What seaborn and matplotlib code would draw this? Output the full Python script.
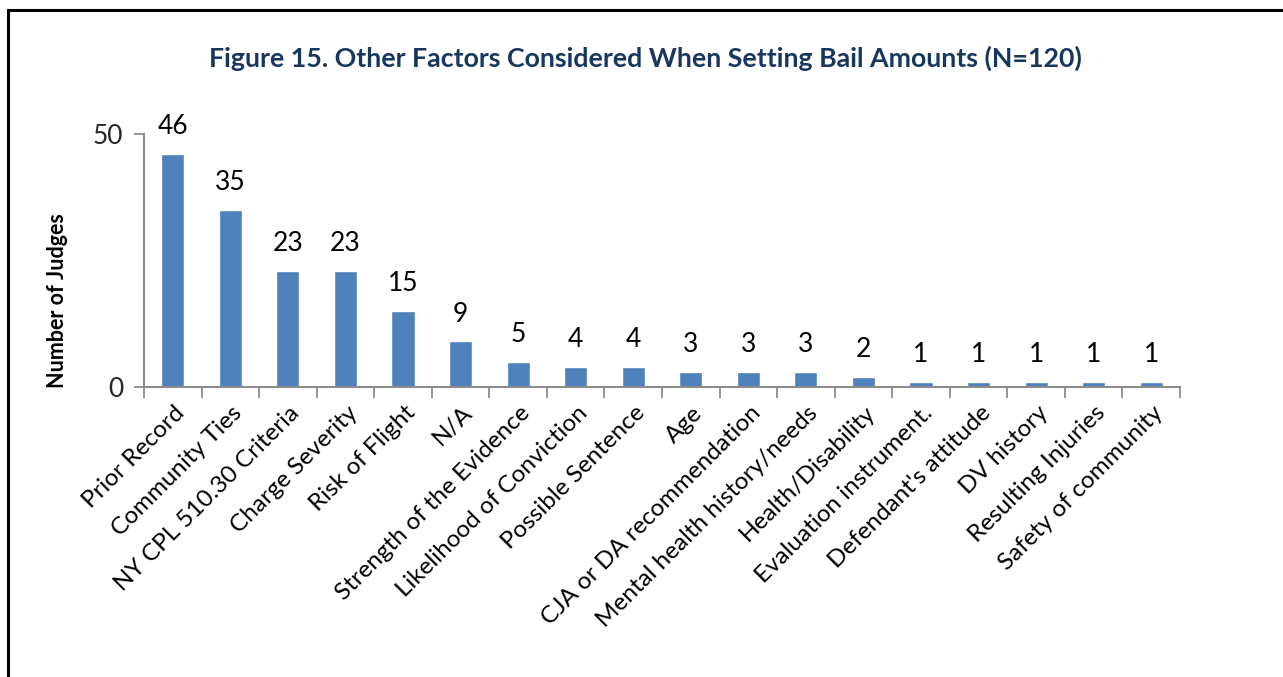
import matplotlib
matplotlib.use("Agg")
import matplotlib.pyplot as plt
import seaborn as sns
import pandas as pd
from matplotlib.patches import Rectangle

factors = [
    "Prior Record", "Community Ties", "NY CPL 510.30 Criteria", "Charge Severity",
    "Risk of Flight", "N/A", "Strength of the Evidence", "Likelihood of Conviction",
    "Possible Sentence", "Age", "CJA or DA recommendation", "Mental health history/needs",
    "Health/Disability", "Evaluation instrument.", "Defendant's attitude", "DV history",
    "Resulting Injuries", "Safety of community",
]
judges = [46, 35, 23, 23, 15, 9, 5, 4, 4, 3, 3, 3, 2, 1, 1, 1, 1, 1]
y_ticks = [0, 50]

df = pd.DataFrame({"factor": factors, "judges": judges})

sns.set_theme(style="white")
plt.rcParams["font.family"] = ["Lato", "DejaVu Sans"]

W, H = 1283, 677
fig = plt.figure(figsize=(W / 100, H / 100), dpi=100)

# outer frame of the figure
fig.patches.append(Rectangle((8 / W, -0.05), 1.2, (677 - 10) / H + 0.05,
                             transform=fig.transFigure, fill=False,
                             edgecolor="black", linewidth=2.2))

ax = fig.add_axes([144 / W, (H - 387) / H, (1180 - 144) / W, (387 - 134) / H])
sns.barplot(data=df, x="factor", y="judges", color="#4F81BD", saturation=1,
            width=0.4, ax=ax)

ax.set_ylim(0, 50)
ax.set_xlim(-0.5, len(factors) - 0.5)
ax.set_yticks(y_ticks)
ax.set_yticklabels([str(t) for t in y_ticks], fontsize=19)

# value labels above bars
for i, v in enumerate(judges):
    ax.text(i, v + 5.4, str(v), ha="center", va="center", fontsize=19, color="black")

# category boundaries as tick marks
ax.set_xticks([i - 0.5 for i in range(len(factors) + 1)], minor=False)
ax.set_xticklabels([])
ax.tick_params(axis="x", which="major", direction="out", length=8, width=1.3,
               color="#8C8C8C", bottom=True)
ax.tick_params(axis="y", direction="out", length=7, width=1.3, color="#8C8C8C",
               left=True, pad=8)
for i, name in enumerate(factors):
    ax.text(i + 0.02, -3.0, name, rotation=45, ha="right", va="top",
            rotation_mode="anchor", fontsize=17.5, color="black")

for side in ["top", "right"]:
    ax.spines[side].set_visible(False)
for side in ["left", "bottom"]:
    ax.spines[side].set_color("#8C8C8C")
    ax.spines[side].set_linewidth(1.5)

ax.set_xlabel("")
ax.set_ylabel("")
fig.text(57 / W, (H - 301) / H, "Number of Judges", rotation=90, ha="center",
         va="center", fontsize=15.5, fontweight="bold", color="black")

fig.text(645 / W, (H - 58) / H, "Figure 15. Other Factors Considered When Setting Bail Amounts (N=120)",
         ha="center", va="center", fontsize=19.3, fontweight="bold", color="#17375E")

fig.savefig("out.png", dpi=100)
